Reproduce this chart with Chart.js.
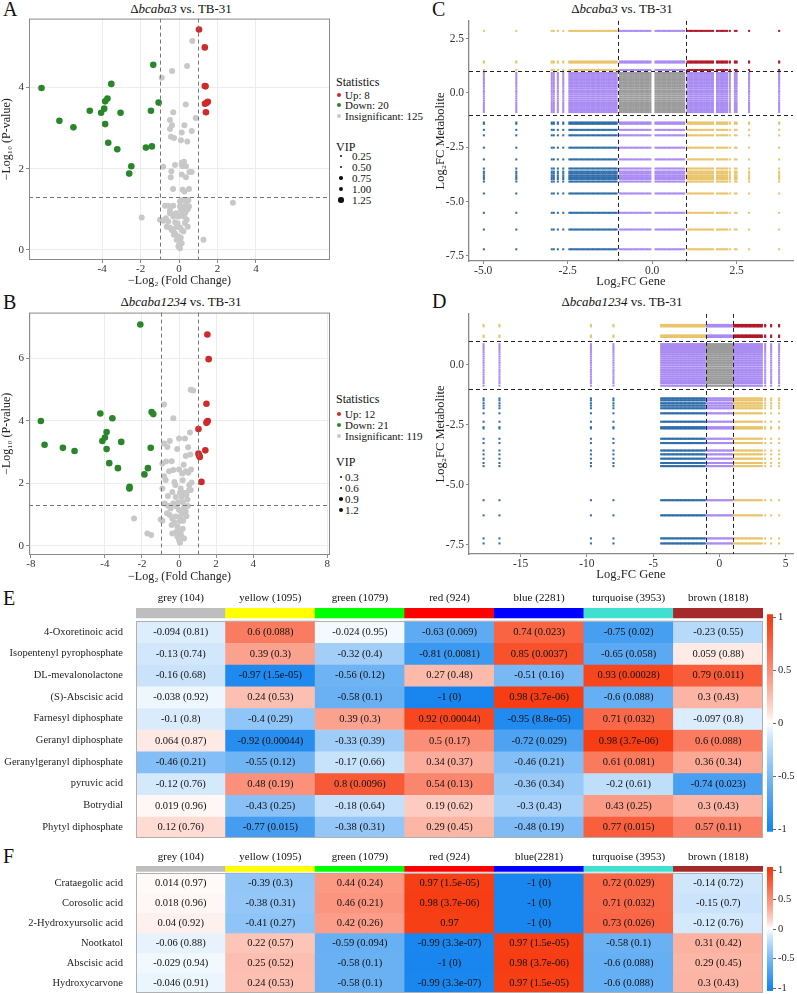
<!DOCTYPE html>
<html>
<head>
<meta charset="utf-8">
<script src="https://cdn.jsdelivr.net/npm/chart.js@4.4.1/dist/chart.umd.min.js"></script>
<style>
  body { margin: 0; width: 797px; height: 994px; position: relative; overflow: hidden; background: #fff;
         font-family: "Liberation Serif", "DejaVu Serif", serif; color: #111; }
  canvas { position: absolute; }
  .letter { position: absolute; font-size: 20px; line-height: 20px; }
  .title { position: absolute; font-size: 13px; line-height: 14px; white-space: nowrap; transform: translateX(-50%); }
  .leg { position: absolute; font-size: 11px; line-height: 12px; white-space: nowrap; }
  .legh { position: absolute; font-size: 12px; line-height: 13px; white-space: nowrap; }
  .dot { position: absolute; border-radius: 50%; }
</style>
</head>
<body>

<div class="letter" style="left:3px;top:-1px">A</div>
<div class="title" style="left:181px;top:2px">&Delta;<i>bcaba3</i> vs. TB-31</div>
<div class="letter" style="left:3px;top:292px">B</div>
<div class="title" style="left:181px;top:295px">&Delta;<i>bcaba1234</i> vs. TB-31</div>
<div class="letter" style="left:432px;top:-1px">C</div>
<div class="title" style="left:622px;top:2px">&Delta;<i>bcaba3</i> vs. TB-31</div>
<div class="letter" style="left:432px;top:291px">D</div>
<div class="title" style="left:622px;top:295px">&Delta;<i>bcaba1234</i> vs. TB-31</div>
<div class="letter" style="left:3px;top:588px">E</div>
<div class="letter" style="left:3px;top:846px">F</div>

<canvas id="cA" width="335" height="278" style="left:0;top:10px"></canvas>
<canvas id="cB" width="335" height="280" style="left:0;top:304px"></canvas>
<canvas id="cC" width="364" height="277" style="left:433px;top:12px"></canvas>
<canvas id="cD" width="364" height="277" style="left:433px;top:305px"></canvas>
<canvas id="cE" width="765" height="260" style="left:0;top:590px"></canvas>
<canvas id="cEbar" width="35" height="236" style="left:762px;top:605px"></canvas>
<canvas id="cF" width="765" height="161" style="left:0;top:845px"></canvas>
<canvas id="cFbar" width="35" height="142" style="left:762px;top:858px"></canvas>

<div id="legA"></div>
<div id="legB"></div>

<script>
// ==========================
// Data
// ==========================

// Panel A volcano: [log2FC, -log10 p]
const aUp = [[1.04,5.43],[1.34,4.99],[1.34,4.04],[1.38,4.03],[1.50,3.65],[1.35,3.60],[1.42,3.62],[1.40,3.39]];
const aDown = [[-7.15,3.99],[-6.22,3.18],[-5.49,3.02],[-4.64,3.43],[-4.05,3.38],[-3.89,3.48],[-3.84,3.66],
  [-3.72,3.73],[-3.52,4.09],[-3.84,3.10],[-3.68,2.64],[-3.21,2.48],[-3.04,3.38],[-2.48,2.06],[-2.59,1.88],
  [-1.72,2.52],[-1.41,2.55],[-1.46,3.43],[-1.34,4.56],[-1.06,3.63]];
const aNs = [[0.69,5.15],[0.42,4.53],[-0.36,4.41],[-0.90,4.24],[0.35,3.58],[-0.30,3.39],[0.87,3.25],[-0.47,3.20],
  [-0.36,3.07],[0.28,3.07],[-0.47,2.98],[0.66,2.93],[0.14,2.89],[-0.42,2.79],[-0.26,2.76],[0.10,2.70],[0.43,2.67],
  [-0.82,2.05],[-0.21,2.09],[0.14,2.15],[0.26,2.17],[0.14,2.11],[0.19,2.06],[0.36,2.06],[-0.40,1.94],[-0.43,1.79],
  [0.14,1.86],[0.54,1.92],[0.66,1.92],[0.36,1.79],[-0.31,1.50],[0.19,1.48],[0.28,1.44],[0.52,1.50],[2.80,1.16],
  [-1.94,0.80],[1.27,0.25],[-0.73,1.09],[-0.56,1.09],[-0.30,1.09],[0.05,1.19],[0.14,1.23],[0.31,1.23],[0.49,1.23],
  [0.40,1.15],[0.05,1.07],[0.19,1.07],[0.52,1.07],[-0.47,0.97],[-0.99,0.74],[-0.82,0.72],[-0.68,0.78],[-0.47,0.90],
  [-0.30,0.82],[-0.16,0.90],[-0.03,0.82],[0.14,0.86],[0.26,0.82],[0.40,0.74],[-0.64,0.57],[-0.47,0.55],[-0.30,0.51],
  [-0.12,0.57],[0.05,0.55],[0.14,0.49],[0.23,0.45],[-0.21,0.41],[-0.03,0.33],[0.05,0.25],[0.14,0.16],[-0.03,0.08],
  [0.05,0.04],[-0.26,0.37],[-0.12,0.25],[-0.38,0.49],[-0.56,0.70],[0.31,0.66],[0.45,0.57],[0.10,0.98],[0.22,0.95],
  [-0.08,0.65],[0.00,0.12],[0.09,0.30],[0.33,0.92],[-0.20,0.68],[0.36,1.10],[0.45,1.00]];

// Panel B volcano
const bUp = [[1.53,6.77],[1.60,5.98],[1.48,4.55],[1.51,3.97],[1.48,3.94],[1.55,4.00],[1.05,3.74],[1.42,3.06],
  [1.05,2.96],[1.08,2.90],[1.12,2.85],[1.21,2.05]];
const bDown = [[-2.09,7.09],[-7.46,4.00],[-7.26,3.24],[-6.27,3.14],[-5.64,3.04],[-4.25,4.24],[-3.60,4.09],
  [-3.91,3.65],[-4.00,3.47],[-4.14,3.36],[-3.91,3.10],[-3.12,3.33],[-3.77,2.65],[-3.30,2.49],[-2.67,1.89],
  [-2.68,1.84],[-1.87,2.29],[-1.68,2.49],[-1.53,3.14],[-1.48,4.29],[-1.39,4.22]];
const bNs = [[0.76,4.98],[0.63,5.00],[-0.81,4.53],[-0.31,4.09],[0.59,3.63],[-0.81,3.28],[-0.63,3.17],[-0.50,3.36],
  [0.00,3.44],[0.32,3.44],[0.49,3.16],[0.36,2.88],[0.61,2.93],[-0.90,2.64],[-0.40,2.71],[-0.81,2.23],[-0.54,2.39],
  [-0.31,2.43],[0.00,2.45],[0.18,2.32],[0.36,2.39],[0.50,2.34],[0.68,2.03],[-0.72,2.11],[-0.90,1.84],[-0.36,1.73],
  [0.09,1.84],[0.27,1.70],[0.14,1.57],[-0.18,1.57],[0.54,1.79],[0.45,1.49],[0.63,1.79],[-0.77,1.36],[-0.59,1.29],
  [-0.45,1.20],[-0.31,1.36],[-0.14,1.26],[0.00,1.15],[0.27,1.23],[0.36,1.10],[0.47,1.28],[-0.50,0.99],[-0.36,0.88],
  [-0.18,0.94],[0.09,0.94],[0.22,0.81],[-0.99,0.85],[-0.90,0.81],[-0.40,0.67],[-0.09,0.62],[0.00,0.51],[0.09,0.40],
  [-0.09,0.30],[0.00,0.19],[0.13,0.30],[0.27,0.24],[-0.36,0.40],[-2.43,0.88],[-1.71,0.40],[-1.50,0.35],
  [-0.25,2.05],[0.20,2.10],[-0.60,1.60],[0.40,1.65],[-0.20,1.95],[0.05,1.70],[-0.05,1.40],[0.20,1.40],[-0.65,1.05],
  [0.15,1.05],[0.40,0.95],[-0.25,0.75],[0.05,0.80],[-0.15,0.45],[0.20,0.55],[0.05,0.10],[-0.70,2.70],[0.25,2.60],
  [-0.10,3.10],[0.65,2.45],[0.55,1.95]];

// Panel C nine-quadrant: gene log2FC values and metabolite log2FC values
const cGenes = [-4.98,-4.02,-2.97,-2.91,-2.79,-2.63,
  -2.45,-2.40,-2.35,-2.30,-2.25,-2.20,-2.15,-2.10,-2.05,-2.00,-1.95,-1.90,-1.85,-1.80,-1.75,-1.70,-1.65,-1.60,
  -1.55,-1.50,-1.45,-1.40,-1.35,-1.30,-1.25,-1.20,-1.15,-1.10,-1.05,
  -0.95,-0.90,-0.85,-0.80,-0.75,-0.70,-0.65,-0.60,-0.55,-0.50,-0.45,-0.40,-0.35,-0.30,-0.25,-0.20,-0.15,-0.10,-0.05,
  0.10,0.15,0.20,0.25,0.30,0.35,0.40,0.45,0.50,0.55,0.60,0.65,0.70,0.75,0.80,0.85,0.90,0.95,
  1.05,1.10,1.15,1.20,1.25,1.30,1.35,1.40,1.45,1.50,1.55,1.60,1.65,1.70,1.75,1.80,
  1.92,1.97,2.02,2.07,2.12,2.17,2.22,2.30,2.45,2.50,2.87,3.76];
const cMetabolites = [2.86,1.45,1.40,1.06,0.92,0.84,0.76,0.68,0.60,0.50,0.42,0.32,0.22,0.12,0.04,-0.06,-0.16,
  -0.26,-0.36,-0.46,-0.55,-0.63,-0.71,-0.79,-0.88,-1.36,-1.42,-1.70,-1.95,-2.52,
  -3.06,-3.48,-3.62,-3.70,-3.80,-3.88,-3.96,-4.08,-4.63,-5.52,-6.29,-7.20];

// Panel D nine-quadrant
const dGenes = [-17.8,-16.6,-9.7,-8.0,
  -4.4,-4.3,-4.2,-4.1,-4.0,-3.9,-3.8,-3.7,-3.6,-3.5,-3.4,-3.3,-3.2,-3.1,-3.0,-2.9,-2.8,-2.7,-2.6,-2.5,-2.4,-2.3,
  -2.2,-2.1,-2.0,-1.9,-1.8,-1.7,-1.6,-1.5,-1.4,-1.3,-1.2,-1.1,
  -0.95,-0.85,-0.75,-0.65,-0.55,-0.45,-0.35,-0.25,-0.15,-0.05,0.05,0.15,0.25,0.35,0.45,0.55,0.65,0.75,0.85,0.95,
  1.1,1.2,1.3,1.4,1.5,1.6,1.7,1.8,1.9,2.0,2.1,2.2,2.3,2.4,2.5,2.6,2.7,2.8,2.9,3.0,3.1,3.2,
  3.45,3.9,4.5];
const dMetabolites = [1.66,1.60,1.22,1.16,0.86,0.78,0.70,0.62,0.53,0.44,0.35,0.26,0.17,0.08,-0.02,
  -0.12,-0.22,-0.31,-0.40,-0.49,-0.58,-0.67,-0.76,-0.87,-1.40,-1.48,-1.60,-1.70,-1.81,-2.02,-2.37,
  -2.60,-2.65,-3.08,-3.26,-3.57,-3.73,-3.91,-4.09,-4.22,-5.64,-6.27,-7.23,-7.44];

// Heatmaps
const moduleColors = ['#BEBEBE','#FFFF00','#00FF00','#FF0000','#0000FF','#40E0D0','#A52A2A'];
const eModules = ['grey (104)','yellow (1095)','green (1079)','red (924)','blue (2281)','turquoise (3953)','brown (1818)'];
const eMetabolites = ['4-Oxoretinoic acid','Isopentenyl pyrophosphate','DL-mevalonolactone','(S)-Abscisic acid',
  'Farnesyl diphosphate','Geranyl diphosphate','Geranylgeranyl diphosphate','pyruvic acid','Botrydial','Phytyl diphosphate'];
const eCorr = [
  [-0.094, 0.6, -0.024, -0.63, 0.74, -0.75, -0.23],
  [-0.13, 0.39, -0.32, -0.81, 0.85, -0.65, 0.059],
  [-0.16, -0.97, -0.56, 0.27, -0.51, 0.93, 0.79],
  [-0.038, 0.24, -0.58, -1, 0.98, -0.6, 0.3],
  [-0.1, -0.4, 0.39, 0.92, -0.95, 0.71, -0.097],
  [0.064, -0.92, -0.33, 0.5, -0.72, 0.98, 0.6],
  [-0.46, -0.55, -0.17, 0.34, -0.46, 0.61, 0.36],
  [-0.12, 0.48, 0.8, 0.54, -0.36, -0.2, -0.74],
  [0.019, -0.43, -0.18, 0.19, -0.3, 0.43, 0.3],
  [0.12, -0.77, -0.38, 0.29, -0.48, 0.77, 0.57]
];
const eP = [
  ['0.81','0.088','0.95','0.069','0.023','0.02','0.55'],
  ['0.74','0.3','0.4','0.0081','0.0037','0.058','0.88'],
  ['0.68','1.5e-05','0.12','0.48','0.16','0.00028','0.011'],
  ['0.92','0.53','0.1','0','3.7e-06','0.088','0.43'],
  ['0.8','0.29','0.3','0.00044','8.8e-05','0.032','0.8'],
  ['0.87','0.00044','0.39','0.17','0.029','3.7e-06','0.088'],
  ['0.21','0.12','0.66','0.37','0.21','0.081','0.34'],
  ['0.76','0.19','0.0096','0.13','0.34','0.61','0.023'],
  ['0.96','0.25','0.64','0.62','0.43','0.25','0.43'],
  ['0.76','0.015','0.31','0.45','0.19','0.015','0.11']
];
const fModules = ['grey (104)','yellow (1095)','green (1079)','red (924)','blue(2281)','turquoise (3953)','brown (1818)'];
const fMetabolites = ['Crataegolic acid','Corosolic acid','2-Hydroxyursolic acid','Nootkatol','Abscisic acid','Hydroxycarvone'];
const fCorr = [
  [0.014, -0.39, 0.44, 0.97, -1, 0.72, -0.14],
  [0.018, -0.38, 0.46, 0.98, -1, 0.71, -0.15],
  [0.04, -0.41, 0.42, 0.97, -1, 0.73, -0.12],
  [-0.06, 0.22, -0.59, -0.99, 0.97, -0.58, 0.31],
  [-0.029, 0.25, -0.58, -1, 0.98, -0.6, 0.29],
  [-0.046, 0.24, -0.58, -0.99, 0.97, -0.6, 0.3]
];
const fP = [
  ['0.97','0.3','0.24','1.5e-05','0','0.029','0.72'],
  ['0.96','0.31','0.21','3.7e-06','0','0.032','0.7'],
  ['0.92','0.27','0.26','','0','0.026','0.76'],
  ['0.88','0.57','0.094','3.3e-07','1.5e-05','0.1','0.42'],
  ['0.94','0.52','0.1','0','3.7e-06','0.088','0.45'],
  ['0.91','0.53','0.1','3.3e-07','1.5e-05','0.088','0.43']
];
const colorbarTicks = [-1, -0.5, 0, 0.5, 1];

// ==========================
// Shared setup
// ==========================
Chart.defaults.font.family = '"Liberation Serif", "DejaVu Serif", serif';
Chart.defaults.color = '#333';
Chart.defaults.animation = false;

const COL = { up: '#D02A2A', down: '#2A862A', ns: '#C8C8C8',
  qRed: '#B2182B', qYellow: '#E9C46A', qPurple: '#A98BF2', qBlue: '#2F6EAA', qGray: '#9A9A9A' };

// dashed reference lines + optional panel box
const guides = {
  id: 'guides',
  afterDatasetsDraw(chart, args, o) {
    const { ctx, chartArea: a, scales: { x, y } } = chart;
    ctx.save();
    ctx.lineWidth = 1;
    ctx.strokeStyle = o.color;
    ctx.setLineDash([4, 3]);
    (o.v || []).forEach(v => {
      const px = Math.round(x.getPixelForValue(v)) + 0.5;
      ctx.beginPath(); ctx.moveTo(px, a.top); ctx.lineTo(px, a.bottom); ctx.stroke();
    });
    (o.h || []).forEach(v => {
      const py = Math.round(y.getPixelForValue(v)) + 0.5;
      ctx.beginPath(); ctx.moveTo(a.left, py); ctx.lineTo(a.right, py); ctx.stroke();
    });
    ctx.setLineDash([]);
    if (o.box) {
      ctx.strokeStyle = o.box;
      ctx.strokeRect(a.left + 0.5, a.top + 0.5, a.width - 1, a.height - 1);
    }
    ctx.restore();
  }
};

function pts(arr) { return arr.map(([x, y]) => ({ x, y })); }
function fixedTicks(list) { return s => { s.ticks = list.map(v => ({ value: v })); }; }

// ==========================
// Volcano plots (A, B)
// ==========================
function volcano(id, up, down, ns, c) {
  const ds = (data, color, r) => ({ data: pts(data), pointRadius: r, pointBackgroundColor: color,
    pointBorderColor: color, pointBorderWidth: 0 });
  new Chart(document.getElementById(id), {
    type: 'scatter',
    data: { datasets: [ds(ns, COL.ns, 3), ds(down, COL.down, 3.3), ds(up, COL.up, 3.3)] },
    options: {
      responsive: false, events: [],
      layout: { padding: { top: 8, right: 5, bottom: 0, left: 0 } },
      plugins: { legend: { display: false }, tooltip: { enabled: false },
        guides: { v: [-1, 1], h: [1.3], color: '#777', box: '#8a8a8a' } },
      scales: {
        x: { type: 'linear', min: c.xMin, max: c.xMax, afterBuildTicks: fixedTicks(c.xTicks),
          grid: { color: '#ececec', tickColor: '#8a8a8a', tickLength: 3 }, border: { display: false },
          ticks: { font: { size: 11, lineHeight: 1 }, color: '#333', padding: 1 },
          title: { display: true, text: '\u2212Log\u2082 (Fold Change)', font: { size: 12 }, color: '#222', padding: 0 },
          afterFit(s) { s.height = c.xH; } },
        y: { min: c.yMin, max: c.yMax, afterBuildTicks: fixedTicks(c.yTicks),
          grid: { color: '#ececec', tickColor: '#8a8a8a', tickLength: 3 }, border: { display: false },
          ticks: { font: { size: 11 }, color: '#333', padding: 2 },
          title: { display: true, text: '\u2212Log\u2081\u2080 (P-value)', font: { size: 12 }, color: '#222', padding: 0 },
          afterFit(s) { s.width = 29; } }
      }
    },
    plugins: [guides]
  });
}

volcano('cA', aUp, aDown, aNs, { xMin: -7.8, xMax: 7.85, yMin: -0.25, yMax: 5.7,
  xTicks: [-4, -2, 0, 2, 4], yTicks: [0, 2, 4], xH: 28 });
volcano('cB', bUp, bDown, bNs, { xMin: -8.1, xMax: 8.15, yMin: -0.29, yMax: 7.47,
  xTicks: [-8, -4, -2, 0, 2, 4, 8], yTicks: [0, 2, 4, 6], xH: 29 });

// html legends for A and B
function legend(el, top, counts, vip, dotX, vipTextX) {
  const box = document.getElementById(el);
  let h = '';
  h += `<div class="legh" style="left:336px;top:${top[0] - 6}px">Statistics</div>`;
  const items = [['Up: ' + counts[0], COL.up], ['Down: ' + counts[1], COL.down], ['Insignificant: ' + counts[2], COL.ns]];
  items.forEach((it, i) => {
    const cy = top[1 + i];
    h += `<span class="dot" style="left:${dotX - 2}px;top:${cy - 2}px;width:4px;height:4px;background:${it[1]}"></span>`;
    h += `<div class="leg" style="left:345px;top:${cy - 6}px">${it[0]}</div>`;
  });
  h += `<div class="legh" style="left:336px;top:${top[4] - 6}px">VIP</div>`;
  vip.forEach((v, i) => {
    const cy = top[5 + i], r = 0.9 + i * 0.45;
    h += `<span class="dot" style="left:${dotX + 2 - r}px;top:${cy - r}px;width:${2 * r}px;height:${2 * r}px;background:#111"></span>`;
    h += `<div class="leg" style="left:${vipTextX}px;top:${cy - 6}px">${v}</div>`;
  });
  box.innerHTML = h;
}
legend('legA', [82, 95, 105, 116, 147, 156, 167, 178, 189, 200], [8, 20, 125], ['0.25', '0.50', '0.75', '1.00', '1.25'], 339, 352);
legend('legB', [399, 414, 425, 436, 462, 477, 488, 499, 510], [12, 21, 119], ['0.3', '0.6', '0.9', '1.2'], 339, 345);

// ==========================
// Nine-quadrant plots (C, D)
// ==========================
function quadrants(genes, metas) {
  const g = { gray: [], purple: [], yellow: [], blue: [], red: [] };
  genes.forEach(x => metas.forEach(y => {
    const sx = Math.abs(x) >= 1, sy = Math.abs(y) >= 1;
    let k;
    if (!sx && !sy) k = 'gray';
    else if (sx !== sy) k = 'purple';
    else if (x > 0 && y > 0) k = 'red';
    else if (x < 0 && y < 0) k = 'blue';
    else k = 'yellow';
    g[k].push({ x, y });
  }));
  return g;
}

function nineQuad(id, genes, metas, c) {
  const q = quadrants(genes, metas);
  const ds = (data, color) => ({ data, pointStyle: 'rect', pointRadius: 1.45, pointBackgroundColor: color,
    pointBorderColor: color, pointBorderWidth: 0 });
  new Chart(document.getElementById(id), {
    type: 'scatter',
    data: { datasets: [ds(q.gray, COL.qGray), ds(q.purple, COL.qPurple), ds(q.yellow, COL.qYellow),
      ds(q.blue, COL.qBlue), ds(q.red, COL.qRed)] },
    options: {
      responsive: false, events: [], parsing: false,
      layout: { padding: { top: 8, right: 2, bottom: 0, left: 0 } },
      plugins: { legend: { display: false }, tooltip: { enabled: false },
        guides: { v: [-1, 1], h: [1, -1], color: '#222' } },
      scales: {
        x: { type: 'linear', min: c.xMin, max: c.xMax, afterBuildTicks: fixedTicks(c.xTicks),
          grid: { drawOnChartArea: false, color: '#888', tickLength: 3 },
          border: { display: true, color: '#888', width: 1.3 },
          ticks: { font: { size: 11.5, lineHeight: 1 }, color: '#333', padding: 1, callback: c.xFmt },
          title: { display: true, text: 'Log\u2082FC Gene', font: { size: 12.5 }, color: '#222', padding: 0 },
          afterFit(s) { s.height = 28; } },
        y: { min: c.yMin, max: c.yMax, afterBuildTicks: fixedTicks(c.yTicks),
          grid: { drawOnChartArea: false, color: '#888', tickLength: 3 },
          border: { display: true, color: '#888', width: 1.3 },
          ticks: { font: { size: 11.5 }, color: '#333', padding: 2, callback: v => v.toFixed(1) },
          title: { display: true, text: 'Log\u2082FC Metabolite', font: { size: 12.5 }, color: '#222', padding: 0 },
          afterFit(s) { s.width = 36; } }
      }
    },
    plugins: [guides]
  });
}

nineQuad('cC', cGenes, cMetabolites, { xMin: -5.42, xMax: 4.17, yMin: -7.74, yMax: 3.32,
  xTicks: [-5, -2.5, 0, 2.5], yTicks: [-7.5, -5, -2.5, 0, 2.5], xFmt: v => v.toFixed(1) });
nineQuad('cD', dGenes, dMetabolites, { xMin: -18.9, xMax: 5.55, yMin: -7.88, yMax: 2.12,
  xTicks: [-15, -10, -5, 0, 5], yTicks: [-7.5, -5, -2.5, 0], xFmt: v => String(v) });

// ==========================
// Correlation heatmaps (E, F)
// ==========================
const BLUE = [24, 134, 238], RED = [247, 58, 16];
function heatColor(v) {
  const t = Math.pow(Math.min(1, Math.abs(v)), 0.8), end = v < 0 ? BLUE : RED;
  const c = end.map(e => Math.round(255 + (e - 255) * t));
  return `rgb(${c[0]},${c[1]},${c[2]})`;
}

// cell labels, module names above the colour band, and the table frame
const cellText = {
  id: 'cellText',
  afterDatasetsDraw(chart, args, o) {
    const { ctx, chartArea: a, scales: { x, y } } = chart;
    ctx.save();
    ctx.fillStyle = '#111';
    ctx.textAlign = 'center';
    ctx.textBaseline = 'middle';
    ctx.font = '11px "Liberation Serif", serif';
    o.modules.forEach((m, c) => ctx.fillText(m, x.getPixelForValue(c), a.top - o.headGap));
    ctx.font = '10.5px "Liberation Serif", serif';
    o.corr.forEach((row, r) => row.forEach((v, c) => {
      const p = o.pvals[r][c];
      ctx.fillText(p !== '' ? `${v} (${p})` : `${v}`, x.getPixelForValue(c), y.getPixelForValue(r) + 0.5);
    }));
    const t = y.getPixelForValue(-0.5), b = y.getPixelForValue(o.corr.length - 0.5);
    ctx.strokeStyle = '#b0b0b0';
    ctx.lineWidth = 1;
    ctx.strokeRect(a.left + 0.5, Math.round(t) + 0.5, a.width - 1, Math.round(b - t) - 1);
    ctx.restore();
  }
};

function heatmap(id, modules, rows, corr, pvals, c) {
  const bar = (data, colors) => ({ data, backgroundColor: colors, borderWidth: 0, grouped: false,
    barPercentage: 1, categoryPercentage: 1 });
  const datasets = [bar(modules.map(() => [c.bandTop, c.bandBottom]), moduleColors)];
  rows.forEach((name, r) => datasets.push(bar(modules.map(() => [r - 0.5, r + 0.5]), corr[r].map(heatColor))));
  new Chart(document.getElementById(id), {
    type: 'bar',
    data: { labels: modules, datasets },
    options: {
      responsive: false, events: [],
      layout: { padding: { top: 0, right: 2, bottom: c.padBottom, left: 0 } },
      plugins: { legend: { display: false }, tooltip: { enabled: false },
        cellText: { corr, pvals, modules, headGap: c.headGap } },
      scales: {
        x: { position: 'top', grid: { display: false }, border: { display: false },
          ticks: { display: false },
          afterFit(s) { s.height = c.headH; } },
        y: { reverse: true, min: c.bandTop, max: rows.length - 0.5,
          afterBuildTicks: fixedTicks(rows.map((n, i) => i)),
          grid: { display: false }, border: { display: false },
          ticks: { font: { size: 10.5 }, color: '#222', padding: 5, autoSkip: false, callback: v => rows[v] },
          afterFit(s) { s.width = 136; } }
      }
    },
    plugins: [cellText]
  });
}

heatmap('cE', eModules, eMetabolites, eCorr, eP, { bandTop: -1.099, bandBottom: -0.638, headH: 18, headGap: 10, padBottom: 12 });
heatmap('cF', fModules, fMetabolites, fCorr, fP, { bandTop: -0.85, bandBottom: -0.575, headH: 21, headGap: 9, padBottom: 13 });

function colorbar(id, lim, pad) {
  new Chart(document.getElementById(id), {
    type: 'bar',
    data: { labels: [''], datasets: [{
      data: [[-lim, lim]], borderWidth: 0, barPercentage: 1, categoryPercentage: 1,
      backgroundColor(ctx) {
        const ch = ctx.chart;
        if (!ch.chartArea) return '#fff';
        const y = ch.scales.y;
        const g = ch.ctx.createLinearGradient(0, y.getPixelForValue(-1), 0, y.getPixelForValue(1));
        for (let i = 0; i <= 20; i++) g.addColorStop(i / 20, heatColor(i / 10 - 1));
        return g;
      }
    }] },
    options: {
      responsive: false, events: [],
      layout: { padding: { top: pad, right: 0, bottom: pad, left: 5 } },
      plugins: { legend: { display: false }, tooltip: { enabled: false } },
      scales: {
        x: { display: false },
        y: { position: 'right', min: -lim, max: lim, afterBuildTicks: fixedTicks(colorbarTicks),
          grid: { drawOnChartArea: false, color: '#666', tickLength: 3 }, border: { display: false },
          ticks: { font: { size: 10.5 }, color: '#222', padding: 2, callback: v => String(v) },
          afterFit(s) { s.width = 24; } }
      }
    }
  });
}
colorbar('cEbar', 1.025, 9.35);
colorbar('cFbar', 1.05, 9.05);
</script>
</body>
</html>
